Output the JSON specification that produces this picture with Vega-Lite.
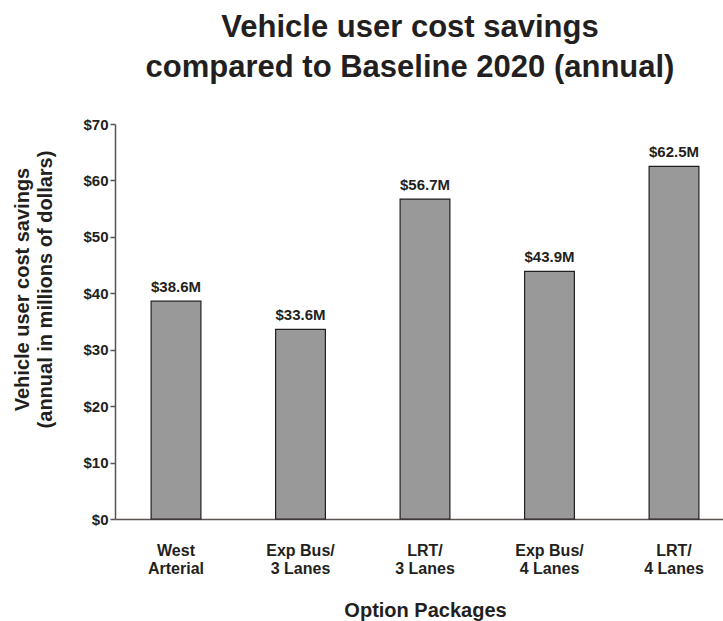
{
  "$schema": "https://vega.github.io/schema/vega-lite/v6.json",
  "width": 620,
  "height": 395,
  "autosize": {"type": "none"},
  "padding": {"left": 115, "top": 124, "right": 0, "bottom": 102},
  "background": "white",
  "title": {
    "text": ["Vehicle user cost savings", "compared to Baseline 2020 (annual)"],
    "font": "Liberation Sans",
    "fontSize": 31,
    "fontWeight": "bold",
    "color": "#231f20",
    "lineHeight": 40,
    "anchor": "middle",
    "dx": -15,
    "offset": 33
  },
  "data": {
    "values": [
      {"option": "West|Arterial", "value": 38.6, "label": "$38.6M"},
      {"option": "Exp Bus/|3 Lanes", "value": 33.6, "label": "$33.6M"},
      {"option": "LRT/|3 Lanes", "value": 56.7, "label": "$56.7M"},
      {"option": "Exp Bus/|4 Lanes", "value": 43.9, "label": "$43.9M"},
      {"option": "LRT/|4 Lanes", "value": 62.5, "label": "$62.5M"}
    ]
  },
  "encoding": {
    "x": {
      "field": "option",
      "type": "nominal",
      "sort": null,
      "scale": {"paddingInner": 0.6, "paddingOuter": 0.29},
      "axis": {
        "title": "Option Packages",
        "titleFont": "Liberation Sans",
        "titleFontSize": 20,
        "titleFontWeight": "bold",
        "titleColor": "#231f20",
        "titleBaseline": "alphabetic",
        "titleY": 97,
        "labelExpr": "split(datum.label, '|')",
        "labelFont": "Liberation Sans",
        "labelFontSize": 16,
        "labelFontWeight": "bold",
        "labelColor": "#231f20",
        "labelLineHeight": 18,
        "labelBaseline": "alphabetic",
        "labelPadding": 36,
        "labelAngle": 0,
        "ticks": false,
        "domainColor": "#5a5350",
        "domainWidth": 1.5
      }
    },
    "y": {
      "field": "value",
      "type": "quantitative",
      "scale": {"domain": [0, 70], "nice": false},
      "axis": {
        "title": ["Vehicle user cost savings", "(annual in millions of dollars)"],
        "titleFont": "Liberation Sans",
        "titleFontSize": 20,
        "titleFontWeight": "bold",
        "titleColor": "#231f20",
        "titleLineHeight": 23,
        "titleBaseline": "bottom",
        "titleX": -83,
        "titleY": 165,
        "values": [0, 10, 20, 30, 40, 50, 60, 70],
        "labelExpr": "'$' + datum.value",
        "labelFont": "Liberation Sans",
        "labelFontSize": 15,
        "labelFontWeight": "bold",
        "labelColor": "#231f20",
        "labelPadding": 2,
        "tickSize": 5,
        "tickColor": "#5a5350",
        "tickWidth": 1.5,
        "domainColor": "#5a5350",
        "domainWidth": 1.5,
        "grid": false
      }
    }
  },
  "layer": [
    {
      "mark": {"type": "bar", "color": "#999999", "stroke": "#231f20", "strokeWidth": 1.2}
    },
    {
      "mark": {
        "type": "text",
        "baseline": "alphabetic",
        "dy": -9,
        "font": "Liberation Sans",
        "fontSize": 15,
        "fontWeight": "bold",
        "color": "#231f20"
      },
      "encoding": {"text": {"field": "label"}}
    }
  ],
  "config": {"view": {"stroke": null}}
}
